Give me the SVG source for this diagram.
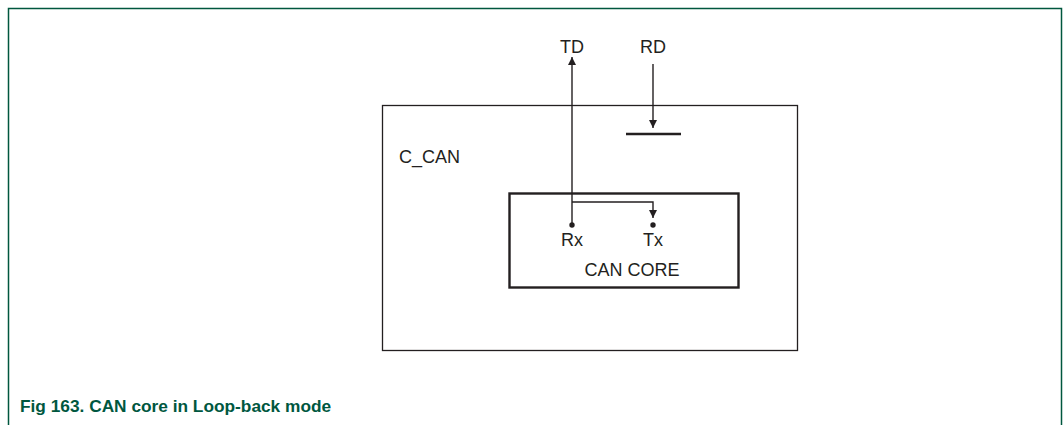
<svg xmlns="http://www.w3.org/2000/svg" width="1063" height="425" viewBox="0 0 1063 425">
<style>
.t{font-family:"Liberation Sans",Arial,sans-serif;font-size:18px;fill:#231f20}
.cap{font-family:"Liberation Sans",Arial,sans-serif;font-size:17.3px;font-weight:bold;fill:#00573f}
.ln{stroke:#231f20;stroke-width:1.4;fill:none}
</style>
<defs>
<marker id="ah" viewBox="0 0 10 10" refX="10" refY="5" markerWidth="8" markerHeight="10" markerUnits="userSpaceOnUse" orient="auto">
<path d="M0,0 L10,5 L0,10 z" fill="#231f20"/>
</marker>
</defs>
<rect width="1063" height="425" fill="#fff"/>
<path d="M8.5,425 V8.5 H1061.5 V425" fill="none" stroke="#00573f" stroke-width="1.5"/>
<g id="c_can">
<rect x="382.5" y="105.5" width="415" height="245" fill="none" stroke="#231f20" stroke-width="1.3"/>
<text class="t" x="399" y="163">C_CAN</text>
</g>
<g id="can_core">
<rect x="509.5" y="193.5" width="229" height="94" fill="none" stroke="#231f20" stroke-width="2.4"/>
<text class="t" x="632" y="276" text-anchor="middle">CAN CORE</text>
<circle cx="572" cy="225" r="2.7" fill="#231f20"/>
<text class="t" x="572" y="246" text-anchor="middle">Rx</text>
<circle cx="653" cy="225" r="2.7" fill="#231f20"/>
<text class="t" x="653" y="246" text-anchor="middle">Tx</text>
</g>
<g id="td"><text class="t" x="572" y="53" text-anchor="middle">TD</text></g>
<g id="rd"><text class="t" x="653" y="53" text-anchor="middle">RD</text></g>
<g id="rd_bar"><line x1="626" y1="134" x2="681" y2="134" stroke="#231f20" stroke-width="2.4"/></g>
<g id="connectors">
<line class="ln" x1="572" y1="225" x2="572" y2="57" marker-end="url(#ah)"/>
<polyline class="ln" points="572,202 653,202 653,218" marker-end="url(#ah)"/>
<line class="ln" x1="653" y1="64" x2="653" y2="128" marker-end="url(#ah)"/>
</g>
<text class="cap" x="20" y="412">Fig 163. CAN core in Loop-back mode</text>
</svg>
